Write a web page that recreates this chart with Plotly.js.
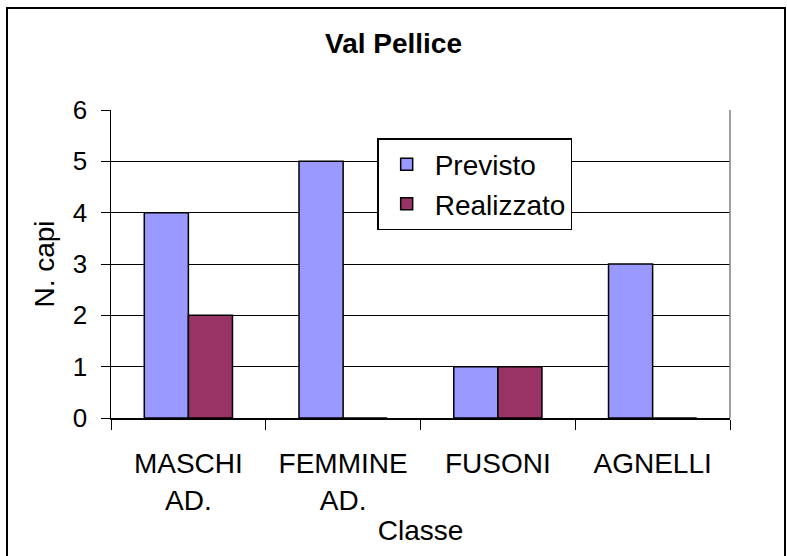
<!DOCTYPE html>
<html>
<head>
<meta charset="utf-8">
<script src="https://cdn.plot.ly/plotly-3.0.1.min.js"></script>
<style>
html,body{margin:0;padding:0;background:#fff;}
#chart{width:787px;height:556px;}
</style>
</head>
<body>
<div id="chart"></div>
<script>
const categories = ["MASCHI<br>AD.", "FEMMINE<br>AD.", "FUSONI", "AGNELLI"];
const previsto = [4, 5, 1, 3];
const realizzato = [2, 0, 1, 0];
const seriesNames = ["Previsto", "Realizzato"];
const yTicks = [0, 1, 2, 3, 4, 5, 6];

const font = "Liberation Sans, Arial, sans-serif";

const traces = [
  {
    type: "bar", name: seriesNames[0], x: categories, y: previsto,
    marker: {color: "#9999FF", line: {color: "#000", width: 1.5}}
  },
  {
    type: "bar", name: seriesNames[1], x: categories, y: realizzato,
    marker: {color: "#993366", line: {color: "#000", width: 1.5}}
  }
];

const layout = {
  width: 787, height: 556,
  margin: {l: 111, r: 57, t: 110, b: 138, pad: 0},
  paper_bgcolor: "#fff", plot_bgcolor: "#fff",
  font: {family: font, color: "#000", size: 28},
  title: {text: "<b>Val Pellice</b>", font: {family: font, size: 28, color: "#000"},
          x: 0.5, xref: "container", y: 0.922, yref: "container", yanchor: "middle"},
  barmode: "group", bargap: 0.43, bargroupgap: 0,
  showlegend: true,
  legend: {x: 0.43, y: 0.909, xanchor: "left", yanchor: "top", itemwidth: 46,
           entrywidth: 205, entrywidthmode: "pixels",
           bgcolor: "#fff", bordercolor: "#000", borderwidth: 1.5,
           font: {family: font, size: 28, color: "#000"}, tracegroupgap: 0},
  xaxis: {
    type: "category", tickson: "boundaries", ticks: "outside", ticklen: 10,
    tickcolor: "#000", tickwidth: 1, showline: true, linecolor: "#000", linewidth: 1.5,
    showgrid: false, tickfont: {family: font, size: 28}, ticklabelstandoff: 20,
    title: {text: "Classe", font: {family: font, size: 28}, standoff: 6}
  },
  yaxis: {
    range: [0, 6], tickvals: yTicks, ticks: "outside", ticklen: 9,
    tickcolor: "#000", tickwidth: 1, showline: true, linecolor: "#000", linewidth: 1.5,
    showgrid: true, gridcolor: "#000", gridwidth: 1, zeroline: false,
    tickfont: {family: font, size: 26}, ticklabelstandoff: 8,
    title: {text: "N. capi", font: {family: font, size: 28}, standoff: 10}
  },
  shapes: [
    {type: "line", xref: "paper", yref: "paper", x0: 1, x1: 1, y0: 0, y1: 1,
     line: {color: "#808080", width: 1.5}},
    {type: "rect", xref: "paper", yref: "paper",
     x0: (7 - 111) / 619, x1: (785 - 111) / 619, y0: -0.5, y1: (418 - 8) / 308,
     line: {color: "#000", width: 2}, layer: "below"}
  ]
};

Plotly.newPlot("chart", traces, layout, {displayModeBar: false, staticPlot: true});
</script>
</body>
</html>
